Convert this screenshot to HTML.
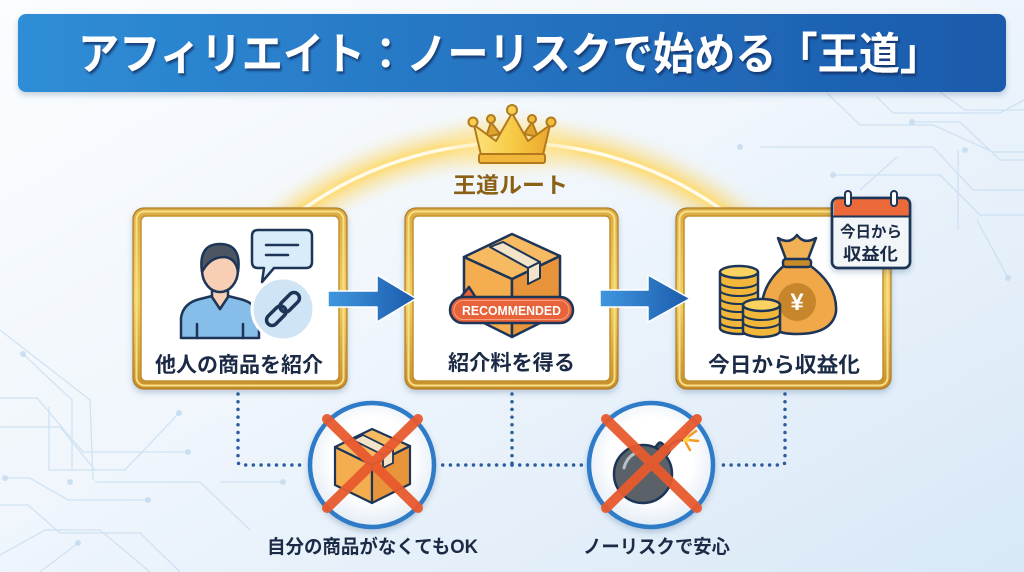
<!DOCTYPE html>
<html><head><meta charset="utf-8"><style>
html,body{margin:0;padding:0;width:1024px;height:572px;overflow:hidden;background:#eef5fb}
svg{display:block}
text{font-family:"Liberation Sans","Noto Sans CJK JP",sans-serif;font-weight:700}
</style></head><body>
<svg width="1024" height="572" viewBox="0 0 1024 572" xmlns="http://www.w3.org/2000/svg">
<defs>
<linearGradient id="bg" x1="0" y1="0" x2="1" y2="1">
<stop offset="0" stop-color="#fbfdff"/><stop offset="0.45" stop-color="#f0f6fc"/><stop offset="1" stop-color="#d8e8f7"/>
</linearGradient>
<linearGradient id="title" x1="0" x2="1"><stop offset="0" stop-color="#2f8dd6"/><stop offset="1" stop-color="#1b5aac"/></linearGradient>
<linearGradient id="gold" x1="0" y1="0" x2="0" y2="1"><stop offset="0" stop-color="#dcab42"/><stop offset=".5" stop-color="#f2d064"/><stop offset="1" stop-color="#c68e2a"/></linearGradient>
<linearGradient id="arrow" x1="0" x2="1"><stop offset="0" stop-color="#3f97de"/><stop offset="1" stop-color="#1b5bad"/></linearGradient>
<radialGradient id="circ" cx=".5" cy=".45" r=".55"><stop offset=".6" stop-color="#ffffff"/><stop offset="1" stop-color="#e3ecf5"/></radialGradient>
<linearGradient id="crown" x1="0" x2="1"><stop offset="0" stop-color="#fbe27c"/><stop offset=".5" stop-color="#f7cb46"/><stop offset="1" stop-color="#eca72b"/></linearGradient>
<filter id="blur8" x="-20%" y="-50%" width="140%" height="200%"><feGaussianBlur stdDeviation="8"/></filter>
<filter id="blur3" x="-20%" y="-50%" width="140%" height="200%"><feGaussianBlur stdDeviation="3"/></filter>
<filter id="sh" x="-20%" y="-20%" width="140%" height="150%"><feDropShadow dx="0" dy="3" stdDeviation="3" flood-color="#274a74" flood-opacity=".25"/></filter>
<filter id="tsh" x="-5%" y="-20%" width="110%" height="160%"><feDropShadow dx="1.5" dy="2.5" stdDeviation="1" flood-color="#0d2c5a" flood-opacity=".75"/></filter>
</defs>

<rect width="1024" height="572" fill="url(#bg)"/>

<!-- circuit lines background -->
<g fill="none" stroke="#c3daf0" stroke-width="1.3" opacity=".7">
<polyline points="827,93 860,125 933,125 993,152 1024,152"/>
<polyline points="912,122 960,122 1000,160 1024,160"/>
<polyline points="760,147 933,147 973,190 1024,190"/>
<polyline points="833,175 940,175 980,215 1024,215"/>
<polyline points="897,157 860,190"/>
<polyline points="958,150 958,230"/>
<polyline points="977,220 1008,278"/>
<polyline points="877,97 893,113 1000,113 1024,100"/>
<polyline points="940,92 965,110 1024,110"/>
<polyline points="23,354 72,400 72,470"/>
<polyline points="0,398 37,398 83,452 188,452"/>
<polyline points="0,427 60,427 95,470"/>
<polyline points="49,407 49,470 125,470 179,413"/>
<polyline points="5,478 30,478 68,500 148,500"/>
<polyline points="0,505 28,505 60,533 140,533 180,572"/>
<polyline points="0,555 45,530 100,530 150,572"/>
<polyline points="78,543 40,572"/>
<polyline points="95,482 200,482 250,530"/>
<polyline points="220,482 283,482"/>
<polyline points="0,330 90,400 93,480"/>
</g>
<g fill="#c3daf0" opacity=".8">
<circle cx="23" cy="354" r="3"/><circle cx="188" cy="452" r="3"/><circle cx="179" cy="413" r="3"/>
<circle cx="5" cy="478" r="3"/><circle cx="148" cy="500" r="3"/><circle cx="78" cy="543" r="3"/>
<circle cx="283" cy="482" r="3"/><circle cx="912" cy="122" r="3"/><circle cx="833" cy="175" r="3"/>
<circle cx="1008" cy="278" r="3"/><circle cx="965" cy="150" r="3"/><circle cx="740" cy="147" r="3"/>
<circle cx="70" cy="482" r="3"/>
</g>

<!-- title bar -->
<rect x="18" y="14" width="988" height="78" rx="8" fill="url(#title)" filter="url(#sh)"/>
<text x="78" y="69" font-size="44" fill="#ffffff" textLength="863" lengthAdjust="spacingAndGlyphs" filter="url(#tsh)">アフィリエイト：ノーリスクで始める「王道」</text>

<!-- glowing arc -->
<path d="M 280 227 A 362 362 0 0 1 744 227" fill="none" stroke="#ffcf45" stroke-width="30" opacity=".55" filter="url(#blur8)"/>
<path d="M 280 227 A 362 362 0 0 1 744 227" fill="none" stroke="#ffdc70" stroke-width="10" opacity=".85" filter="url(#blur3)"/>
<path d="M 280 227 A 362 362 0 0 1 744 227" fill="none" stroke="#fffbea" stroke-width="3.5"/>
<ellipse cx="512" cy="145" rx="60" ry="25" fill="#ffe9a3" opacity=".5" filter="url(#blur8)"/>

<!-- crown -->
<g stroke="#b27a1c" stroke-width="2" stroke-linejoin="round">
<path d="M486 137 L491 122 L500 134 Z" fill="#e0a32c"/>
<path d="M524 134 L532 122 L538 137 Z" fill="#e0a32c"/>
<path d="M481 155 L474 125 L496 141 L512 113 L528 141 L550 125 L543 155 Z" fill="url(#crown)"/>
<rect x="479" y="154" width="66" height="9" rx="2" fill="#f0b73a"/>
<circle cx="473" cy="122" r="4.5" fill="#f7cf52"/><circle cx="491" cy="119" r="4" fill="#eebb40"/>
<circle cx="512" cy="110" r="5" fill="#f7cf52"/><circle cx="532" cy="119" r="4" fill="#eebb40"/>
<circle cx="551" cy="122" r="4.5" fill="#f2bd40"/>
</g>
<text x="453" y="193" font-size="22" fill="#8a6114" textLength="115" lengthAdjust="spacingAndGlyphs">王道ルート</text>

<!-- boxes -->
<g filter="url(#sh)">
<rect x="133" y="208" width="214" height="181" rx="11" fill="url(#gold)" stroke="#b07c26" stroke-width="1.2"/>
<rect x="136.5" y="211.5" width="207" height="174" rx="8" fill="none" stroke="#f8df85" stroke-width="2"/>
<rect x="141" y="216" width="198" height="165" rx="5" fill="#fff" stroke="#c2902d" stroke-width="1.5"/>
</g>
<g filter="url(#sh)">
<rect x="405" y="208" width="213" height="181" rx="11" fill="url(#gold)" stroke="#b07c26" stroke-width="1.2"/>
<rect x="408.5" y="211.5" width="206" height="174" rx="8" fill="none" stroke="#f8df85" stroke-width="2"/>
<rect x="413" y="216" width="197" height="165" rx="5" fill="#fff" stroke="#c2902d" stroke-width="1.5"/>
</g>
<g filter="url(#sh)">
<rect x="676" y="208" width="215" height="181" rx="11" fill="url(#gold)" stroke="#b07c26" stroke-width="1.2"/>
<rect x="679.5" y="211.5" width="208" height="174" rx="8" fill="none" stroke="#f8df85" stroke-width="2"/>
<rect x="684" y="216" width="199" height="165" rx="5" fill="#fff" stroke="#c2902d" stroke-width="1.5"/>
</g>

<!-- box1 icon: person -->
<g stroke="#1d3557" stroke-width="2.5" stroke-linejoin="round" stroke-linecap="round">
<path d="M181 338 L181 318 Q183 303 200 299 L212 296 L220 309 L228 296 L240 299 Q257 303 259 318 L259 338 Z" fill="#86bde9"/>
<path d="M212 286 L212 297 L220 309 L228 297 L228 286 Z" fill="#f8cfb4"/>
<line x1="197" y1="324" x2="197" y2="338"/><line x1="243" y1="324" x2="243" y2="338"/>
<ellipse cx="220" cy="270" rx="18" ry="22" fill="#f8cfb4"/>
<path d="M202 272 Q198 244 220 244 Q242 244 238 272 Q236 258 224 257 Q210 257 202 272 Z" fill="#4c5663"/>
<path d="M258 230 H306 Q312 230 312 236 V262 Q312 268 306 268 H274 L262 282 L264 268 H258 Q252 268 252 262 V236 Q252 230 258 230 Z" fill="#d9ecfa"/>
<line x1="266" y1="245" x2="298" y2="245"/><line x1="266" y1="255" x2="288" y2="255"/>
</g>
<path d="M256 289 L262 300 L268 293 Z" fill="#cfe5f6"/>
<circle cx="283" cy="309" r="31" fill="#cfe5f6" stroke="#ffffff" stroke-width="3"/>
<g transform="rotate(-45 283 309)" fill="none" stroke="#1d3557" stroke-width="3.5">
<rect x="262" y="303.5" width="23" height="11" rx="5.5"/>
<rect x="281" y="303.5" width="23" height="11" rx="5.5"/>
</g>
<text x="155" y="372" font-size="21" fill="#1c2b45" textLength="168" lengthAdjust="spacingAndGlyphs">他人の商品を紹介</text>

<!-- box2 icon: cardboard box -->
<g stroke="#1d3557" stroke-width="2.5" stroke-linejoin="round">
<path d="M464 257 L512 279 L512 337 L464 313 Z" fill="#f4ad4f"/>
<path d="M512 279 L560 256 L560 313 L512 337 Z" fill="#e8943a"/>
<path d="M464 257 L512 234 L560 256 L512 279 Z" fill="#f6bb62"/>
<path d="M490 247 L503 242 L540 262 L528 268 Z" fill="#f3e3c9" stroke-width="2"/>
<path d="M528 268 L540 262 L540 278 L528 284 Z" fill="#f3e3c9" stroke-width="2"/>
<path d="M460 298 L469 287 L476 298 Z" fill="#e8623a"/>
<rect x="450" y="297" width="123" height="26" rx="13" fill="#e8623a"/>
</g>
<rect x="454" y="300.5" width="115" height="19" rx="9.5" fill="none" stroke="#f7a07e" stroke-width="1"/>
<text x="462" y="315" font-size="13" fill="#ffffff" textLength="99" lengthAdjust="spacingAndGlyphs">RECOMMENDED</text>
<text x="448" y="370" font-size="21" fill="#1c2b45" textLength="127" lengthAdjust="spacingAndGlyphs">紹介料を得る</text>

<!-- box3 icon: bag + coins -->
<g stroke="#1d3557" stroke-width="2.5" stroke-linejoin="round">
<path d="M786 264 Q760 285 762 312 Q764 334 797 334 Q832 334 836 312 Q838 285 808 264 Z" fill="#f0a848"/>
<path d="M787 262 L778 238 Q790 245 797 235 Q804 245 816 238 L807 262 Z" fill="#f2b055"/>
<rect x="783" y="259" width="28" height="8" rx="3" fill="#c98a2a"/>
<circle cx="797" cy="302" r="19" fill="#c8862c" stroke="none"/>
<path d="M720 272 V328 A19 6 0 0 0 758 328 V272 Z" fill="#f2b73a"/>
<path d="M720 282 A19 6 0 0 0 758 282 M720 290 A19 6 0 0 0 758 290 M720 298 A19 6 0 0 0 758 298 M720 306 A19 6 0 0 0 758 306 M720 314 A19 6 0 0 0 758 314 M720 322 A19 6 0 0 0 758 322" fill="none" stroke-width="2"/>
<ellipse cx="739" cy="272" rx="19" ry="6" fill="#f9d260"/>
<path d="M743 305 V331 A18.5 6 0 0 0 780 331 V305 Z" fill="#f2b73a"/>
<path d="M743 314 A18.5 6 0 0 0 780 314 M743 322 A18.5 6 0 0 0 780 322" fill="none" stroke-width="2"/>
<ellipse cx="761.5" cy="305" rx="18.5" ry="6" fill="#f9d260"/>
</g>
<text x="797" y="310" font-size="24" fill="#ffffff" text-anchor="middle">¥</text>
<!-- calendar -->
<g stroke="#1d3557" stroke-width="2.5" filter="url(#sh)">
<rect x="832" y="198" width="78" height="70" rx="6" fill="#f3f6f9"/>
</g>
<path d="M834 216 V204 Q834 199 839 199 H903 Q909 199 909 204 V216 Z" fill="#ec6a3a"/>
<line x1="833" y1="216.5" x2="909" y2="216.5" stroke="#1d3557" stroke-width="2"/>
<rect x="832" y="198" width="78" height="70" rx="6" fill="none" stroke="#1d3557" stroke-width="2.5"/>
<rect x="845" y="191" width="6" height="15" rx="3" fill="#fff" stroke="#1d3557" stroke-width="2"/>
<rect x="891" y="191" width="6" height="15" rx="3" fill="#fff" stroke="#1d3557" stroke-width="2"/>
<text x="840" y="237" font-size="15.5" fill="#1c2b45" textLength="62" lengthAdjust="spacingAndGlyphs">今日から</text>
<text x="843" y="260" font-size="17" fill="#1c2b45" textLength="55" lengthAdjust="spacingAndGlyphs">収益化</text>
<text x="708" y="372" font-size="21" fill="#1c2b45" textLength="152" lengthAdjust="spacingAndGlyphs">今日から収益化</text>

<!-- arrows -->
<path d="M328 291 H377 V275 L416 298.5 L377 322 V307 H328 Z" fill="url(#arrow)" stroke="#ffffff" stroke-width="1.5" stroke-linejoin="round"/>
<path d="M600 290 H648 V275 L690 298.5 L648 322 V307 H600 Z" fill="url(#arrow)" stroke="#ffffff" stroke-width="1.5" stroke-linejoin="round"/>

<!-- dotted connectors -->
<g fill="none" stroke="#2b5c9c" stroke-width="3.5" stroke-linecap="round" stroke-dasharray="0 7.7">
<path d="M238 394 V461 Q238 465 242 465 H304"/>
<path d="M512 394 V465"/>
<path d="M512 465 H442"/>
<path d="M512 465 H582"/>
<path d="M785 394 V461 Q785 465 781 465 H722"/>
</g>

<!-- circles -->
<circle cx="372" cy="465" r="62" fill="url(#circ)" stroke="#2f7bc8" stroke-width="4.5" filter="url(#sh)"/>
<circle cx="651" cy="465" r="62" fill="url(#circ)" stroke="#2f7bc8" stroke-width="4.5" filter="url(#sh)"/>

<!-- small box in circle1 -->
<g stroke="#1d3557" stroke-width="2.2" stroke-linejoin="round">
<path d="M335 447 L372 465 L372 503 L335 485 Z" fill="#f4ad4f"/>
<path d="M372 465 L410 446 L410 484 L372 503 Z" fill="#e8943a"/>
<path d="M335 447 L372 429 L410 446 L372 465 Z" fill="#f6bb62"/>
<path d="M353 440 L363 435 L393 450 L383 455 Z" fill="#f3e3c9" stroke-width="1.8"/>
<path d="M383 455 L393 450 L393 463 L383 468 Z" fill="#f3e3c9" stroke-width="1.8"/>
</g>
<!-- bomb in circle2 -->
<g stroke="#1d3557" stroke-width="2.5">
<path d="M664 452 Q672 440 684 440" fill="none" stroke-width="2.5"/>
<rect x="655" y="445" width="14" height="11" rx="2" transform="rotate(40 662 450)" fill="#4a5058"/>
<circle cx="643" cy="474" r="29" fill="#5b6169"/>
</g>
<path d="M624 468 Q627 456 638 452" fill="none" stroke="#b9c0c8" stroke-width="3" stroke-linecap="round"/>
<g stroke="#f39a22" stroke-width="2.5" stroke-linecap="round">
<line x1="688" y1="437" x2="696" y2="431"/><line x1="689" y1="440" x2="698" y2="441"/>
<line x1="686" y1="434" x2="688" y2="426"/><line x1="686" y1="443" x2="690" y2="450"/>
</g>
<circle cx="686" cy="439" r="3.5" fill="#ffd23f"/>

<!-- red X marks -->
<g stroke="#e85a2e" stroke-width="10" stroke-linecap="round" opacity=".95">
<line x1="327" y1="419" x2="418" y2="508"/><line x1="418" y1="419" x2="327" y2="508"/>
<line x1="606" y1="419" x2="697" y2="508"/><line x1="697" y1="419" x2="606" y2="508"/>
</g>

<text x="267" y="553" font-size="19" fill="#1c2b45" textLength="211" lengthAdjust="spacingAndGlyphs">自分の商品がなくてもOK</text>
<text x="583" y="553" font-size="19" fill="#1c2b45" textLength="147" lengthAdjust="spacingAndGlyphs">ノーリスクで安心</text>
</svg>
</body></html>
